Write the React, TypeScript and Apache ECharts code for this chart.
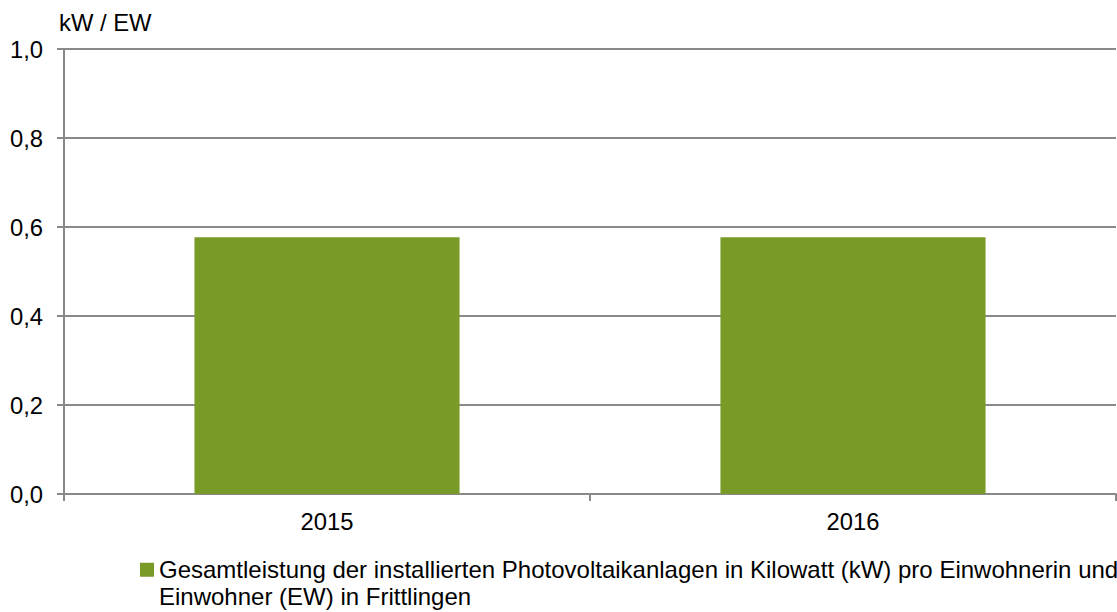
import React, { useEffect, useRef } from "react";
import * as echarts from "echarts";

const categories = ["2015", "2016"];
const values = [0.577, 0.577];
const seriesName =
  "Gesamtleistung der installierten Photovoltaikanlagen in Kilowatt (kW) pro Einwohnerin und\nEinwohner (EW) in Frittlingen";
const unitLabel = "kW / EW";

const FONT = "'Liberation Sans', Arial, sans-serif";
const GREEN = "#7a9a28";
const GRAY = "#898989";
const FS = 23.8;
const LEGEND_FS = 24;

export default function App() {
  const ref = useRef<HTMLDivElement>(null);
  useEffect(() => {
    if (!ref.current) return;
    const chart = echarts.init(ref.current, undefined, { renderer: "svg" });
    chart.setOption({
      animation: false,
      backgroundColor: "#ffffff",
      textStyle: { fontFamily: FONT },
      title: {
        text: unitLabel,
        left: 54,
        top: 5,
        textStyle: { fontFamily: FONT, fontSize: FS, fontWeight: "normal", color: "#000" },
      },
      grid: { left: 64, right: 1, top: 49, bottom: 118, containLabel: false },
      legend: {
        left: 135,
        top: 525,
        icon: "rect",
        itemWidth: 14,
        itemHeight: 14,
        itemGap: 4,
        selectedMode: false,
        formatter: (name: string) => " \n" + name,
        textStyle: {
          fontFamily: FONT,
          fontSize: LEGEND_FS,
          color: "#000",
          lineHeight: 26.5,
        },
        data: [seriesName],
      },
      xAxis: {
        type: "category",
        data: categories,
        axisLine: { lineStyle: { color: GRAY, width: 2 } },
        axisTick: { show: true, length: 7, lineStyle: { color: GRAY, width: 2 } },
        axisLabel: { color: "#000", fontSize: FS, fontFamily: FONT, margin: 15 },
      },
      yAxis: {
        type: "value",
        min: 0,
        max: 1,
        interval: 0.2,
        axisLine: { show: true, lineStyle: { color: GRAY, width: 2 } },
        axisTick: { show: true, length: 7, lineStyle: { color: GRAY, width: 2 } },
        splitLine: { show: true, lineStyle: { color: GRAY, width: 2 } },
        axisLabel: {
          color: "#000",
          fontSize: FS,
          fontFamily: FONT,
          margin: 21,
          formatter: (v: number) => v.toFixed(1).replace(".", ","),
        },
      },
      series: [
        {
          name: seriesName,
          type: "bar",
          data: values,
          barCategoryGap: "49.6%",
          itemStyle: { color: GREEN },
        },
      ],
    });
    return () => chart.dispose();
  }, []);
  return <div ref={ref} style={{ width: 1117, height: 612, position: "absolute", left: 0, top: 0 }} />;
}
